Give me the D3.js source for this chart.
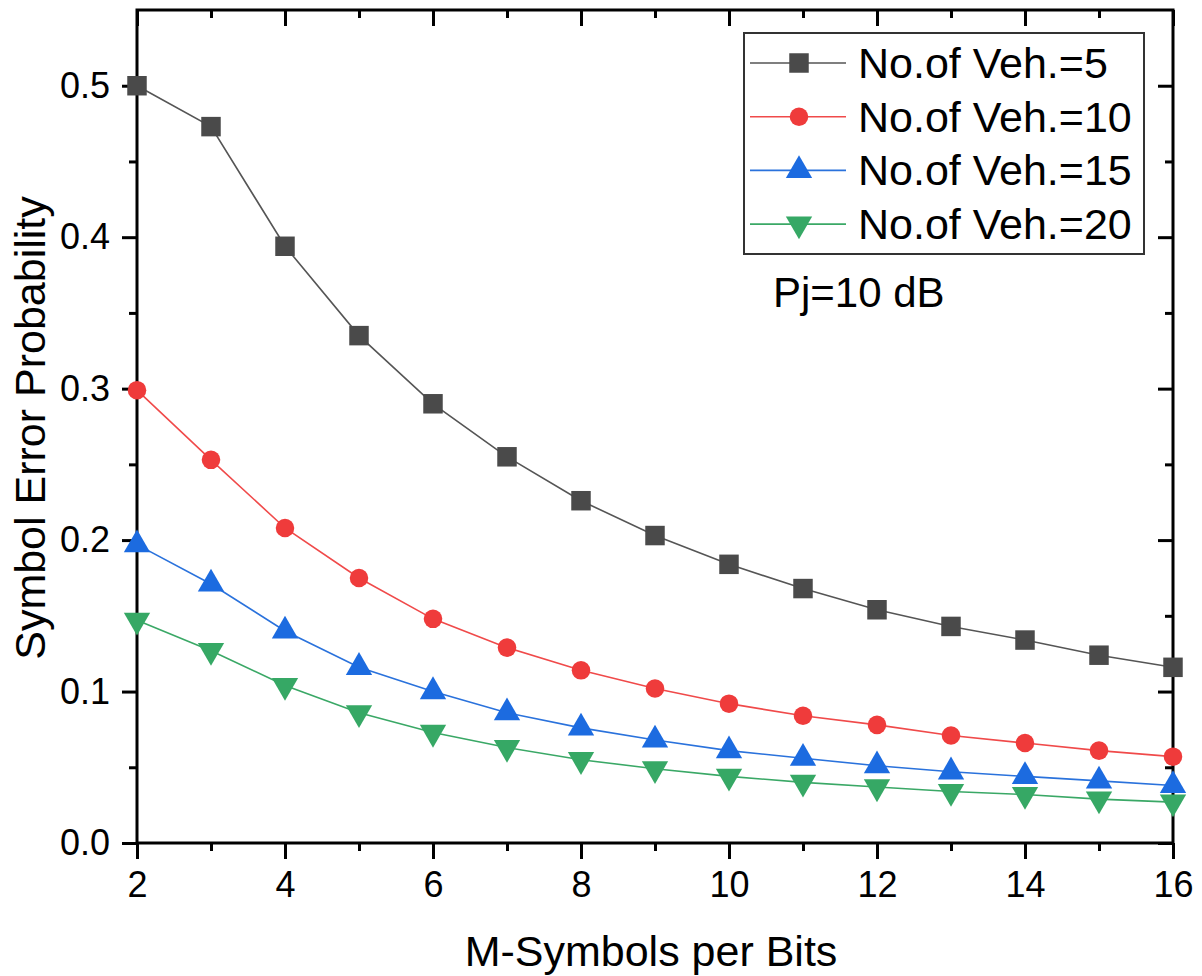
<!DOCTYPE html>
<html>
<head>
<meta charset="utf-8">
<script src="https://cdn.jsdelivr.net/npm/d3@7"></script>
<style>
  body { margin: 0; background: #fff; }
  text { font-family: Arial, "Liberation Sans", sans-serif; fill: #000; }
</style>
</head>
<body>
<svg id="chart" width="1202" height="976"></svg>
<script>
// values
var mSymbols = [2, 3, 4, 5, 6, 7, 8, 9, 10, 11, 12, 13, 14, 15, 16];
var veh5  = [0.500, 0.473, 0.394, 0.335, 0.290, 0.255, 0.226, 0.203, 0.184, 0.168, 0.154, 0.143, 0.134, 0.124, 0.116];
var veh10 = [0.299, 0.253, 0.208, 0.175, 0.148, 0.129, 0.114, 0.102, 0.092, 0.084, 0.078, 0.071, 0.066, 0.061, 0.057];
var veh15 = [0.197, 0.171, 0.140, 0.116, 0.100, 0.086, 0.076, 0.068, 0.061, 0.056, 0.051, 0.047, 0.044, 0.041, 0.038];
var veh20 = [0.147, 0.127, 0.104, 0.086, 0.073, 0.063, 0.055, 0.049, 0.044, 0.040, 0.037, 0.034, 0.032, 0.029, 0.027];
var seriesNames = ["No.of Veh.=5", "No.of Veh.=10", "No.of Veh.=15", "No.of Veh.=20"];
var xTicks = [2, 4, 6, 8, 10, 12, 14, 16];
var yTicks = [0.0, 0.1, 0.2, 0.3, 0.4, 0.5];

(function () {
  var series = [
    { name: seriesNames[0], values: veh5,  line: "#555555", fill: "#4a4a4a", symbol: d3.symbolSquare,   size: 380 },
    { name: seriesNames[1], values: veh10, line: "#f04a4a", fill: "#ef3b3b", symbol: d3.symbolCircle,   size: 270 },
    { name: seriesNames[2], values: veh15, line: "#2a72dc", fill: "#1c6be0", symbol: d3.symbolTriangle, size: 300, rot: 0 },
    { name: seriesNames[3], values: veh20, line: "#3aa866", fill: "#36a865", symbol: d3.symbolTriangle, size: 300, rot: 180 }
  ];

  var svg = d3.select("#chart");
  var pLeft = 137, pRight = 1173, pTop = 10, pBottom = 843;
  var font = "Arial, 'Liberation Sans', sans-serif";

  var x = d3.scaleLinear().domain([2, 16]).range([pLeft, pRight]);
  var y = d3.scaleLinear().domain([0, 0.55]).range([pBottom, pTop]);

  function tickStyle(g) {
    g.select(".domain").remove();
    g.selectAll("line").attr("stroke", "#000").attr("stroke-width", 3);
  }
  function labelStyle(g) {
    g.attr("font-family", font).attr("font-size", 36);
    g.selectAll("text").attr("fill", "#000");
  }

  var xMinor = d3.range(3, 16, 2);
  var yMinor = [0.05, 0.15, 0.25, 0.35, 0.45];

  // bottom axis, ticks outward
  svg.append("g").attr("transform", "translate(0," + pBottom + ")")
    .call(d3.axisBottom(x).tickValues(xTicks).tickSize(16).tickPadding(12).tickFormat(d3.format("d")))
    .call(tickStyle).call(labelStyle);
  svg.append("g").attr("transform", "translate(0," + pBottom + ")")
    .call(d3.axisBottom(x).tickValues(xMinor).tickSize(8).tickFormat(""))
    .call(tickStyle);

  // top axis, ticks inward
  svg.append("g").attr("transform", "translate(0," + pTop + ")")
    .call(d3.axisBottom(x).tickValues(xTicks).tickSize(16).tickFormat(""))
    .call(tickStyle);
  svg.append("g").attr("transform", "translate(0," + pTop + ")")
    .call(d3.axisBottom(x).tickValues(xMinor).tickSize(8).tickFormat(""))
    .call(tickStyle);

  // left axis, ticks outward
  svg.append("g").attr("transform", "translate(" + pLeft + ",0)")
    .call(d3.axisLeft(y).tickValues(yTicks).tickSize(15).tickPadding(12).tickFormat(d3.format(".1f")))
    .call(tickStyle).call(labelStyle);
  svg.append("g").attr("transform", "translate(" + pLeft + ",0)")
    .call(d3.axisLeft(y).tickValues(yMinor).tickSize(8).tickFormat(""))
    .call(tickStyle);

  // right axis, ticks inward
  svg.append("g").attr("transform", "translate(" + pRight + ",0)")
    .call(d3.axisLeft(y).tickValues(yTicks).tickSize(15).tickFormat(""))
    .call(tickStyle);
  svg.append("g").attr("transform", "translate(" + pRight + ",0)")
    .call(d3.axisLeft(y).tickValues(yMinor).tickSize(8).tickFormat(""))
    .call(tickStyle);

  // frame
  svg.append("rect")
    .attr("x", x(2)).attr("y", y(0.55))
    .attr("width", x(16) - x(2)).attr("height", y(0) - y(0.55))
    .attr("fill", "none").attr("stroke", "#000").attr("stroke-width", 3);

  // axis titles
  svg.append("text")
    .attr("x", (pLeft + pRight) / 2 - 4).attr("y", 966)
    .attr("text-anchor", "middle").attr("font-size", 43)
    .text("M-Symbols per Bits");
  svg.append("text")
    .attr("transform", "translate(45,428) rotate(-90)")
    .attr("text-anchor", "middle").attr("font-size", 43)
    .text("Symbol Error Probability");

  // lines and markers
  var line = d3.line()
    .x(function (d, i) { return x(mSymbols[i]); })
    .y(function (d) { return y(d); });

  series.forEach(function (s) {
    svg.append("path")
      .datum(s.values)
      .attr("d", line)
      .attr("fill", "none")
      .attr("stroke", s.line)
      .attr("stroke-width", 1.6);
  });

  series.forEach(function (s) {
    var sym = d3.symbol().type(s.symbol).size(s.size);
    svg.append("g").selectAll("path")
      .data(s.values)
      .join("path")
      .attr("d", sym)
      .attr("fill", s.fill)
      .attr("transform", function (d, i) {
        var t = "translate(" + x(mSymbols[i]) + "," + y(d) + ")";
        if (s.rot) t += " rotate(" + s.rot + ")";
        return t;
      });
  });

  // legend
  var legend = svg.append("g");
  legend.append("rect")
    .attr("x", 744).attr("y", 33).attr("width", 400).attr("height", 221)
    .attr("fill", "#fff").attr("stroke", "#333").attr("stroke-width", 2);

  series.forEach(function (s, i) {
    var ly = 63 + i * 53.7;
    legend.append("line")
      .attr("x1", 750).attr("x2", 846).attr("y1", ly).attr("y2", ly)
      .attr("stroke", s.line).attr("stroke-width", 1.6);
    var t = "translate(799," + ly + ")";
    if (s.rot) t += " rotate(" + s.rot + ")";
    legend.append("path")
      .attr("d", d3.symbol().type(s.symbol).size(s.size)())
      .attr("fill", s.fill)
      .attr("transform", t);
    legend.append("text")
      .attr("x", 858).attr("y", ly + 15)
      .attr("font-size", 43)
      .text(s.name);
  });

  svg.append("text")
    .attr("x", 773).attr("y", 307)
    .attr("font-size", 42)
    .text("Pj=10 dB");
})();
</script>
</body>
</html>
